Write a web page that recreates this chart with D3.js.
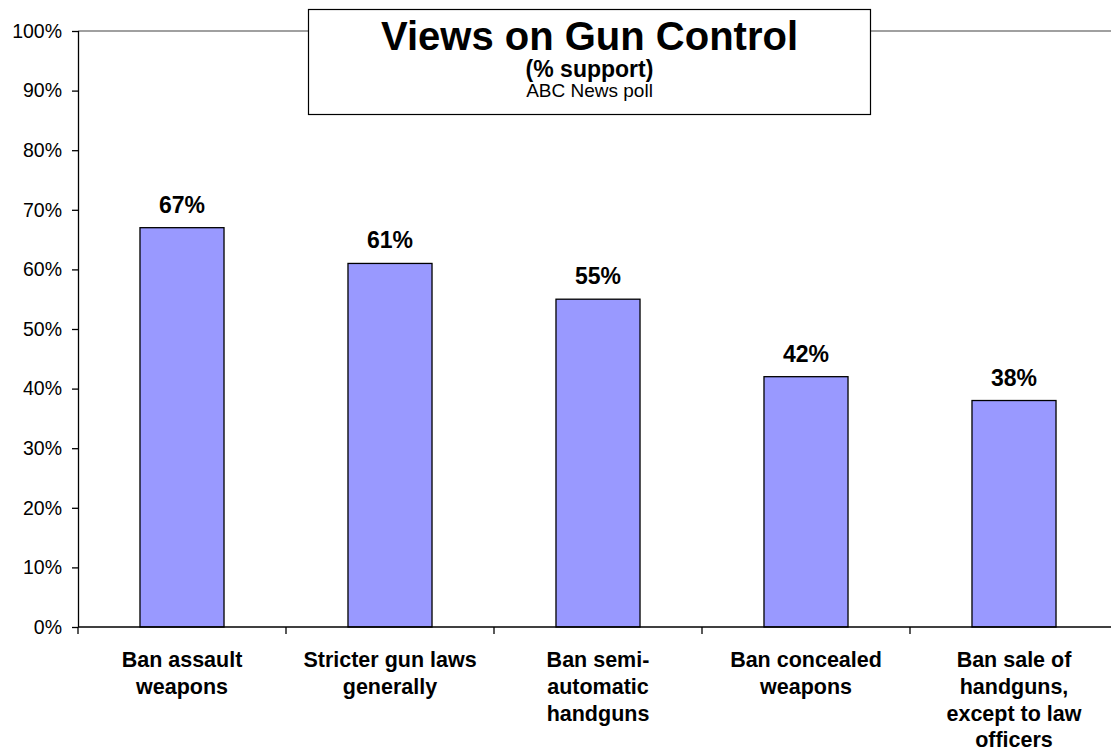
<!DOCTYPE html>
<html>
<head>
<meta charset="utf-8">
<script src="https://cdn.jsdelivr.net/npm/d3@7"></script>
<style>
  html, body { margin: 0; padding: 0; background: #fff; }
  svg { display: block; }
  text { font-family: "Liberation Sans", Arial, Helvetica, sans-serif; fill: #000; }
</style>
</head>
<body>
<svg id="chart" width="1111" height="751"></svg>
<script>
const categories = [
  ["Ban assault", "weapons"],
  ["Stricter gun laws", "generally"],
  ["Ban semi-", "automatic", "handguns"],
  ["Ban concealed", "weapons"],
  ["Ban sale of", "handguns,", "except to law", "officers"]
];
const values = [67, 61, 55, 42, 38];
const yTicks = [0, 10, 20, 30, 40, 50, 60, 70, 80, 90, 100];
const titleText = "Views on Gun Control";
const subtitleText = "(% support)";
const sourceText = "ABC News poll";

(function () {
const svg = d3.select("#chart");
const plotLeft = 78, plotTop = 31, plotBottom = 627, step = 208;
const keys = categories.map((c, i) => i);

const x = d3.scaleBand()
  .domain(keys)
  .range([plotLeft, plotLeft + step * keys.length])
  .paddingInner(0.596)
  .paddingOuter(0.298);
const y = d3.scaleLinear().domain([0, 100]).range([plotBottom, plotTop]);

// plot area top border (gray)
svg.append("line")
  .attr("x1", plotLeft).attr("x2", plotLeft + step * keys.length)
  .attr("y1", y(100)).attr("y2", y(100))
  .attr("stroke", "#808080").attr("stroke-width", 1.3);

// bars
svg.append("g").selectAll("rect")
  .data(values)
  .join("rect")
  .attr("x", (d, i) => x(i))
  .attr("y", d => y(d))
  .attr("width", x.bandwidth())
  .attr("height", d => y(0) - y(d))
  .attr("fill", "#9999FF")
  .attr("stroke", "#000")
  .attr("stroke-width", 1.3);

// value labels
svg.append("g").selectAll("text")
  .data(values)
  .join("text")
  .attr("x", (d, i) => x(i) + x.bandwidth() / 2)
  .attr("y", d => y(d) - 15)
  .attr("text-anchor", "middle")
  .attr("font-weight", "bold")
  .attr("font-size", 23)
  .text(d => d + "%");

// y axis
const yAxis = d3.axisLeft(y)
  .tickValues(yTicks)
  .tickFormat(d => d + "%")
  .tickSize(6)
  .tickPadding(10);
const gy = svg.append("g").attr("transform", `translate(${plotLeft},0)`).call(yAxis);
gy.select(".domain").attr("stroke", "#000").attr("stroke-width", 1.3).attr("d", `M0.5,${y(100)}V${y(0)}`);
gy.selectAll(".tick line").attr("stroke", "#000").attr("stroke-width", 1.3);
gy.selectAll(".tick text")
  .attr("font-family", "'Liberation Sans', Arial, sans-serif")
  .attr("font-size", 19.5)
  .attr("fill", "#000");

// x axis
const boundaries = d3.range(keys.length + 1).map(i => plotLeft + i * x.step());
svg.append("line")
  .attr("x1", plotLeft).attr("x2", plotLeft + step * keys.length)
  .attr("y1", y(0)).attr("y2", y(0))
  .attr("stroke", "#000").attr("stroke-width", 1.3);
svg.append("g").selectAll("line")
  .data(boundaries)
  .join("line")
  .attr("x1", d => d).attr("x2", d => d)
  .attr("y1", y(0)).attr("y2", y(0) + 7)
  .attr("stroke", "#000").attr("stroke-width", 1.3);

// category labels
const cat = svg.append("g").selectAll("text")
  .data(categories)
  .join("text")
  .attr("x", (d, i) => x(i) + x.bandwidth() / 2)
  .attr("y", y(0) + 40)
  .attr("text-anchor", "middle")
  .attr("font-weight", "bold")
  .attr("font-size", 21.5);
cat.selectAll("tspan")
  .data(d => d)
  .join("tspan")
  .attr("x", function() { return d3.select(this.parentNode).attr("x"); })
  .attr("dy", (d, i) => i === 0 ? 0 : 26.8)
  .text(d => d);

// title box
const tb = svg.append("g");
tb.append("rect")
  .attr("x", 308.5).attr("y", 9.5)
  .attr("width", 562).attr("height", 105)
  .attr("fill", "#fff")
  .attr("stroke", "#000")
  .attr("stroke-width", 1.2);
const cx = 308.5 + 281;
tb.append("text").attr("x", cx).attr("y", 50)
  .attr("text-anchor", "middle").attr("font-weight", "bold").attr("font-size", 40)
  .text(titleText);
tb.append("text").attr("x", cx).attr("y", 77)
  .attr("text-anchor", "middle").attr("font-weight", "bold").attr("font-size", 23)
  .text(subtitleText);
tb.append("text").attr("x", cx).attr("y", 97)
  .attr("text-anchor", "middle").attr("font-size", 19)
  .text(sourceText);
})();
</script>
</body>
</html>
